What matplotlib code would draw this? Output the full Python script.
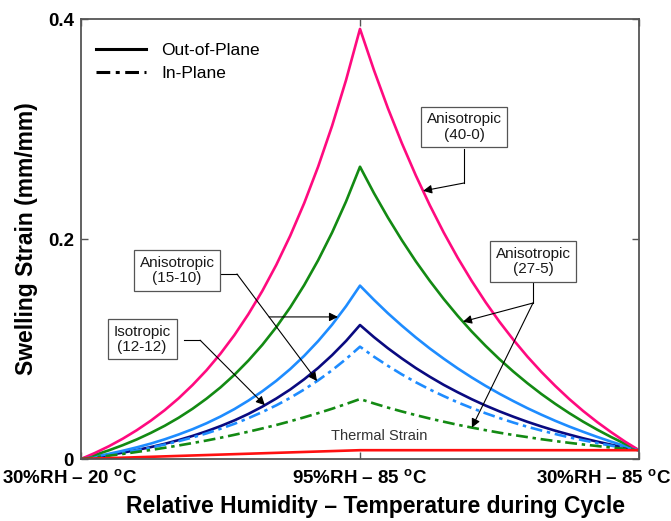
import numpy as np
import matplotlib
matplotlib.use("Agg")
import matplotlib.pyplot as plt
from matplotlib.lines import Line2D
from matplotlib.transforms import ScaledTranslation

plt.rcParams["font.family"] = ["Liberation Sans", "DejaVu Sans"]
plt.rcParams["mathtext.fontset"] = "custom"
plt.rcParams["mathtext.rm"] = "Liberation Sans"
plt.rcParams["mathtext.bf"] = "Liberation Sans:bold"

# Cycle position: 0 = 30%RH-20C, 1 = 95%RH-85C, 2 = 30%RH-85C
cycle_pos = np.linspace(0.0, 2.0, 41)

aniso_40_0_out = [0.0, 0.0055, 0.0116, 0.0185, 0.0262, 0.0348, 0.0444, 0.0552, 0.0673, 0.0807, 0.0958,
                  0.1127, 0.1317, 0.1528, 0.1765, 0.2030, 0.2326, 0.2658, 0.3029, 0.3445, 0.391,
                  0.3535, 0.3189, 0.2871, 0.2578, 0.2308, 0.2059, 0.1830, 0.1620, 0.1426, 0.1247,
                  0.1083, 0.0931, 0.0792, 0.0664, 0.0545, 0.0436, 0.0336, 0.0244, 0.0158, 0.008]
aniso_27_5_out = [0.0, 0.0037, 0.0079, 0.0126, 0.0178, 0.0237, 0.0302, 0.0375, 0.0457, 0.0549, 0.0651,
                  0.0766, 0.0895, 0.1038, 0.1199, 0.1379, 0.1581, 0.1807, 0.2059, 0.2341, 0.2657,
                  0.2417, 0.2195, 0.1989, 0.1797, 0.1620, 0.1455, 0.1302, 0.1160, 0.1029, 0.0907,
                  0.0794, 0.0689, 0.0591, 0.0501, 0.0417, 0.0339, 0.0267, 0.0200, 0.0138, 0.008]
aniso_15_10_out = [0.0, 0.0022, 0.0047, 0.0075, 0.0106, 0.0140, 0.0179, 0.0223, 0.0271, 0.0325, 0.0386,
                   0.0454, 0.0531, 0.0616, 0.0711, 0.0818, 0.0938, 0.1072, 0.1221, 0.1389, 0.1576,
                   0.1447, 0.1325, 0.1212, 0.1105, 0.1005, 0.0912, 0.0824, 0.0742, 0.0665, 0.0593,
                   0.0526, 0.0462, 0.0403, 0.0347, 0.0295, 0.0247, 0.0201, 0.0158, 0.0118, 0.008]
iso_12_12 = [0.0, 0.0017, 0.0036, 0.0058, 0.0082, 0.0108, 0.0138, 0.0172, 0.0210, 0.0252, 0.0299,
             0.0351, 0.0410, 0.0476, 0.0550, 0.0632, 0.0725, 0.0828, 0.0944, 0.1073, 0.1218,
             0.1108, 0.1007, 0.0914, 0.0827, 0.0748, 0.0674, 0.0607, 0.0544, 0.0486, 0.0433,
             0.0384, 0.0338, 0.0296, 0.0257, 0.0222, 0.0188, 0.0158, 0.0130, 0.0104, 0.008]
aniso_15_10_in = [0.0, 0.0017, 0.0035, 0.0056, 0.0079, 0.0104, 0.0131, 0.0162, 0.0196, 0.0233, 0.0275,
                  0.0320, 0.0371, 0.0427, 0.0488, 0.0556, 0.0632, 0.0715, 0.0807, 0.0909, 0.1021,
                  0.0930, 0.0847, 0.0769, 0.0698, 0.0632, 0.0572, 0.0515, 0.0464, 0.0416, 0.0372,
                  0.0331, 0.0293, 0.0259, 0.0227, 0.0197, 0.0170, 0.0145, 0.0121, 0.0100, 0.008]
aniso_27_5_in = [0.0, 0.0015, 0.0030, 0.0046, 0.0064, 0.0082, 0.0102, 0.0123, 0.0145, 0.0168, 0.0193,
                 0.0220, 0.0248, 0.0278, 0.0309, 0.0343, 0.0379, 0.0417, 0.0457, 0.0500, 0.0545,
                 0.0505, 0.0467, 0.0432, 0.0399, 0.0368, 0.0339, 0.0311, 0.0286, 0.0262, 0.0239,
                 0.0218, 0.0199, 0.0180, 0.0163, 0.0147, 0.0132, 0.0118, 0.0104, 0.0092, 0.008]
thermal_pos = [0.0, 1.0, 2.0]
thermal_strain = [0.0, 0.008, 0.008]

x_ticks = [0, 1, 2]
x_labels = [r"30%RH – 20 $^{\mathbf{o}}$C", r"95%RH – 85 $^{\mathbf{o}}$C", r"30%RH – 85 $^{\mathbf{o}}$C"]
y_ticks = [0, 0.2, 0.4]
y_labels = ["0", "0.2", "0.4"]

PINK = "#ff0a7f"
GREEN = "#138a13"
LBLUE = "#1e8cff"
NAVY = "#0a0a80"
RED = "#ff1010"
DASHDOT = (0, (4.5, 1.8, 1.3, 1.8))

fig = plt.figure(figsize=(6.71, 5.21), dpi=100)
ax = fig.add_axes([81 / 671, 1 - 459 / 521, (639 - 81) / 671, (459 - 19) / 521])

lw = 1.9
ax.plot(cycle_pos, iso_12_12, color=NAVY, lw=lw)
ax.plot(cycle_pos, aniso_15_10_out, color=LBLUE, lw=lw)
ax.plot(cycle_pos, aniso_27_5_out, color=GREEN, lw=lw)
ax.plot(cycle_pos, aniso_40_0_out, color=PINK, lw=lw)
ax.plot(cycle_pos, aniso_15_10_in, color=LBLUE, lw=lw, ls=DASHDOT)
ax.plot(cycle_pos, aniso_27_5_in, color=GREEN, lw=lw, ls=DASHDOT)
ax.plot(thermal_pos, thermal_strain, color=RED, lw=lw)

ax.set_xlim(0, 2)
ax.set_ylim(0, 0.4)
ax.set_xticks(x_ticks)
ax.set_xticklabels(x_labels, fontsize=13.5, fontweight="bold")
ax.set_yticks(y_ticks)
ax.set_yticklabels(y_labels, fontsize=13.5, fontweight="bold")
ax.tick_params(direction="in", length=5, width=1, color="#555555", top=True, right=True)
ax.tick_params(axis="x", pad=7.5)
ax.tick_params(axis="y", pad=5)
for sp in ax.spines.values():
    sp.set_color("#555555")
    sp.set_linewidth(1.3)

# shift the end labels the way they sit under the axis
for lab, dx in zip(ax.get_xticklabels(), [-11, 0, -35]):
    lab.set_transform(lab.get_transform() + ScaledTranslation(dx / 100, 0, fig.dpi_scale_trans))

ax.set_xlabel("Relative Humidity – Temperature during Cycle", fontsize=16.5, fontweight="bold")
ax.xaxis.set_label_coords(0.527, -0.081)
ax.set_ylabel("Swelling Strain (mm/mm)", fontsize=16.5, fontweight="bold", labelpad=7)

handles = [Line2D([], [], color="k", lw=2.2), Line2D([], [], color="k", lw=2.2, ls=DASHDOT)]
ax.legend(handles, ["Out-of-Plane", "In-Plane"], loc="upper left", bbox_to_anchor=(-0.004, 0.985),
          frameon=False, fontsize=12.5, handlelength=2.9, handletextpad=0.85, labelspacing=0.45,
          borderaxespad=0.6)

box = dict(boxstyle="square,pad=0.38", fc="white", ec="#555555", lw=0.9)
txt_kw = dict(ha="center", va="center", fontsize=11, color="#1a1a1a", bbox=box, linespacing=1.1, zorder=6)
arr = dict(arrowstyle="-|>", color="k", lw=0.8, mutation_scale=13, shrinkA=0, shrinkB=0)
seg = dict(color="k", lw=0.8, zorder=5)


def on_curve(series, x):
    return float(np.interp(x, cycle_pos, series))


def arrow(x0, y0, x1, y1):
    ax.annotate("", xy=(x1, y1), xytext=(x0, y0), arrowprops=arr, zorder=5)


# Anisotropic (40-0)
ax.text(1.373, 0.3018, "Anisotropic\n(40-0)", **txt_kw)
ax.plot([1.373, 1.373], [0.282, 0.2509], **seg)
tx = 1.226
arrow(1.373, 0.2509, tx, on_curve(aniso_40_0_out, tx))

# Anisotropic (27-5)
ax.text(1.620, 0.1795, "Anisotropic\n(27-5)", **txt_kw)
ax.plot([1.620, 1.620], [0.160, 0.1418], **seg)
tx = 1.369
arrow(1.620, 0.1418, tx, on_curve(aniso_27_5_out, tx))
tx = 1.401
arrow(1.620, 0.1418, tx, on_curve(aniso_27_5_in, tx))

# Anisotropic (15-10)
ax.text(0.344, 0.1714, "Anisotropic\n(15-10)", **txt_kw)
cx, cy = 0.559, 0.1682
ax.plot([0.50, cx], [cy, cy], **seg)
tx = 0.846
ty = on_curve(aniso_15_10_in, tx)
arrow(cx, cy, tx, ty)
hx = 0.921
hy = on_curve(aniso_15_10_out, hx)
bx = cx + (tx - cx) * (cy - hy) / (cy - ty)
arrow(bx, hy, hx, hy)

# Isotropic (12-12)
ax.text(0.219, 0.109, "Isotropic\n(12-12)", **txt_kw)
cx, cy = 0.427, 0.108
ax.plot([0.37, cx], [cy, cy], **seg)
tx = 0.659
arrow(cx, cy, tx, on_curve(iso_12_12, tx))

ax.text(1.07, 0.0205, "Thermal Strain", ha="center", va="center", fontsize=10.5, color="#333333")

fig.savefig("out.png", dpi=100)
